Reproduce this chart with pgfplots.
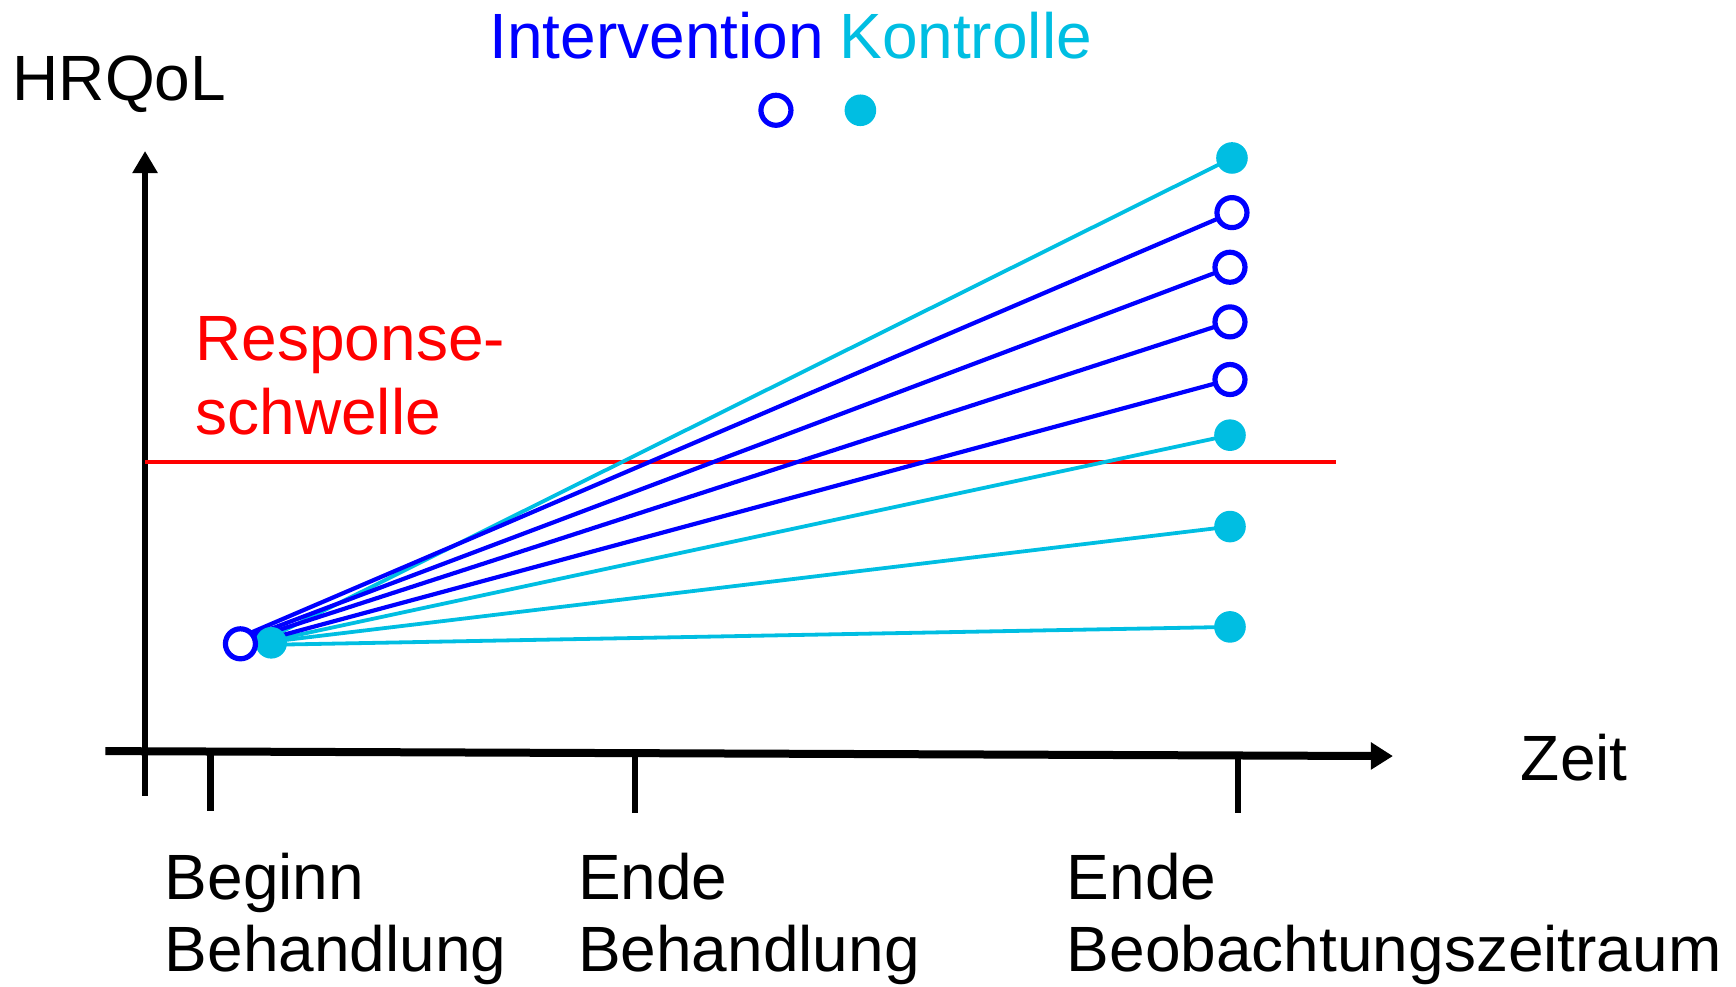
\documentclass[border=0pt]{standalone}
\usepackage{fontspec}
\setmainfont{Liberation Sans}
\usepackage{pgfplots}
\pgfplotsset{compat=1.18}
\usetikzlibrary{arrows.meta}
\definecolor{iblue}{RGB}{0,0,255}
\definecolor{kcyan}{RGB}{0,190,226}
\begin{document}
\begin{tikzpicture}[txt/.style={anchor=base west, font=\fontsize{16}{19}\selectfont, inner sep=0pt}]
\begin{axis}[width=434pt,height=246.75pt,scale only axis,
  xmin=0,xmax=1747.3,ymin=0,ymax=993.4,y dir=reverse,
  hide axis, clip=false, enlargelimits=false]
\coordinate (bl) at (axis cs:0,993.4);
\coordinate (tr) at (axis cs:1747.3,0);
% axes
\addplot[black, line width=1.65pt, -{Triangle[width=6pt,length=5.5pt]}] coordinates {(146,801) (146,152)};
\addplot[black, line width=2pt, -{Triangle[width=6.5pt,length=5.5pt]}] coordinates {(106,756) (1402,761)};
\addplot[black, line width=1.65pt] coordinates {(212,757) (212,816)};
\addplot[black, line width=1.65pt] coordinates {(639,759) (639,818)};
\addplot[black, line width=1.65pt] coordinates {(1246,761) (1246,818)};
% threshold
\addplot[red, line width=0.95pt] coordinates {(146,465) (1345,465)};
% start marker (control)
\addplot[only marks, mark=*, mark size=3.75pt, color=kcyan] coordinates {(273,647)};
% control lines
\addplot[kcyan, line width=0.95pt] coordinates {(265,645) (1240,159)};
\addplot[kcyan, line width=0.95pt] coordinates {(272,645) (1238,438)};
\addplot[kcyan, line width=0.95pt] coordinates {(272,646) (1238,530)};
\addplot[kcyan, line width=0.95pt] coordinates {(272,649) (1238,631)};
% intervention lines
\addplot[iblue, line width=1.05pt] coordinates {(252,637) (1240,214)};
\addplot[iblue, line width=1.05pt] coordinates {(254,640) (1238,269)};
\addplot[iblue, line width=1.05pt] coordinates {(256,642) (1238,324)};
\addplot[iblue, line width=1.05pt] coordinates {(263,645) (1238,382)};
% end markers
\addplot[only marks, mark=*, mark size=3.75pt, color=kcyan] coordinates {(1240,159) (1238,438) (1238,530) (1238,631)};
\addplot[only marks, mark=*, mark size=3.75pt, mark options={draw=iblue, fill=white, line width=1.3pt}] coordinates {(1240,214) (1238,269) (1238,324) (1238,382)};
% start marker (intervention)
\addplot[only marks, mark=*, mark size=3.75pt, mark options={draw=iblue, fill=white, line width=1.3pt}] coordinates {(242,648)};
% legend markers
\addplot[only marks, mark=*, mark size=3.75pt, mark options={draw=iblue, fill=white, line width=1.3pt}] coordinates {(781,111)};
\addplot[only marks, mark=*, mark size=3.75pt, color=kcyan] coordinates {(866,111)};
% texts
\node[txt] at (axis cs:12,101) {HRQoL};
\node[txt, text=iblue] at (axis cs:492,59) {Intervention};
\node[txt, text=kcyan] at (axis cs:844,59) {Kontrolle};
\node[txt, text=red] at (axis cs:196,363) {Response-};
\node[txt, text=red] at (axis cs:196,437) {schwelle};
\node[txt] at (axis cs:1530,786) {Zeit};
\node[txt] at (axis cs:165,905) {Beginn};
\node[txt] at (axis cs:165,978) {Behandlung};
\node[txt] at (axis cs:581,905) {Ende};
\node[txt] at (axis cs:581,978) {Behandlung};
\node[txt] at (axis cs:1073,905) {Ende};
\node[txt] at (axis cs:1073,978) {Beobachtungszeitraum};
\end{axis}
\pgfresetboundingbox
\useasboundingbox (bl) rectangle (tr);
\end{tikzpicture}
\end{document}
